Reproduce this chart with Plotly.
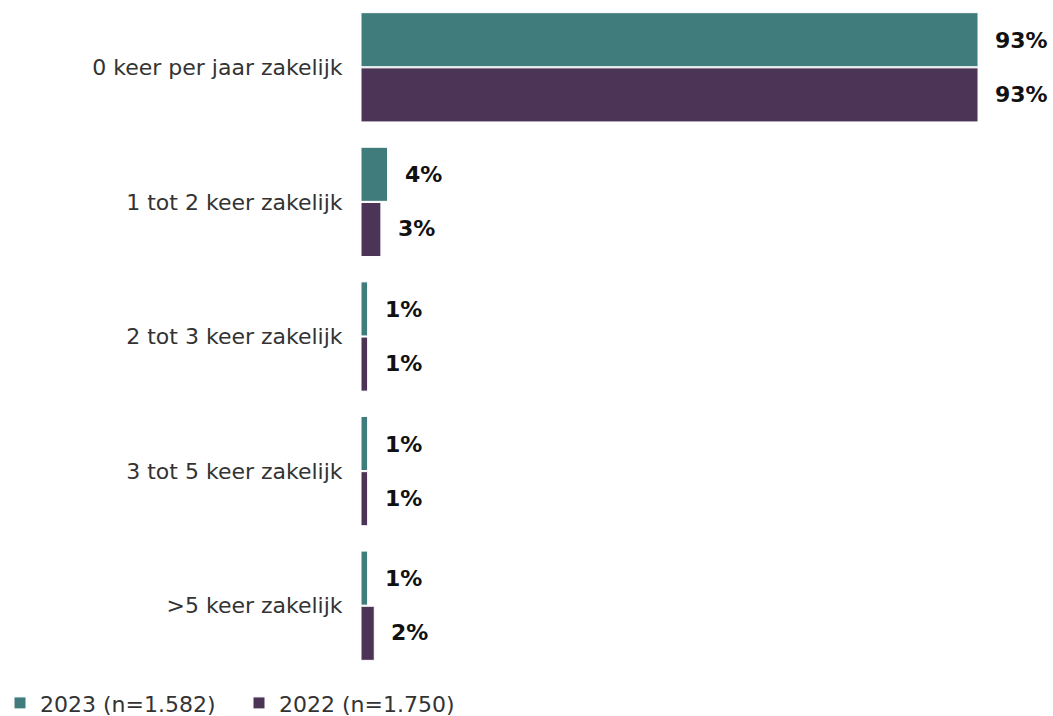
import plotly.graph_objects as go

categories = [
    "0 keer per jaar zakelijk",
    "1 tot 2 keer zakelijk",
    "2 tot 3 keer zakelijk",
    "3 tot 5 keer zakelijk",
    ">5 keer zakelijk",
]
values_2023 = [93, 4, 1, 1, 1]
values_2022 = [93, 3, 1, 1, 2]
series_names = ["2023 (n=1.582)", "2022 (n=1.750)"]

colors = ["#407c7b", "#4b3456"]
font_family = "DejaVu Sans, sans-serif"

fig = go.Figure()
for name, vals, col in zip(series_names, [values_2023, values_2022], colors):
    fig.add_trace(go.Bar(
        y=categories, x=vals, name=name, orientation="h",
        marker=dict(color=col, line=dict(color="white", width=1)),
        hoverinfo="skip",
    ))

# value labels beside each bar: 2023 above, 2022 below the category centre
for vals, shift in zip([values_2023, values_2022], [27, -27]):
    for cat, v in zip(categories, vals):
        fig.add_annotation(
            x=v, y=cat, text=f"<b>{v}%</b>", showarrow=False,
            xanchor="left", yanchor="middle", xshift=15, yshift=shift,
            font=dict(family=font_family, size=22, color="#111111"),
        )

fig.update_layout(
    width=1053, height=716,
    margin=dict(l=361, r=0, t=0, b=43),
    paper_bgcolor="white", plot_bgcolor="white",
    barmode="group", bargap=0.18, bargroupgap=0.02,
    font=dict(family=font_family, size=22, color="#333333"),
    showlegend=True,
    legend=dict(
        orientation="h", xref="container", yref="container",
        x=0.0, y=0.018, xanchor="left", yanchor="middle",
        font=dict(size=22, color="#333333"), itemwidth=30,
        entrywidth=194, entrywidthmode="pixels",
        traceorder="normal",
    ),
    xaxis=dict(range=[0, 104.3], visible=False, fixedrange=True),
    yaxis=dict(
        autorange="reversed", showgrid=False, zeroline=False, showline=False,
        ticks="outside", ticklen=13, tickcolor="rgba(0,0,0,0)",
        tickfont=dict(size=22, color="#333333"),
    ),
)

fig.write_html("out.html")
